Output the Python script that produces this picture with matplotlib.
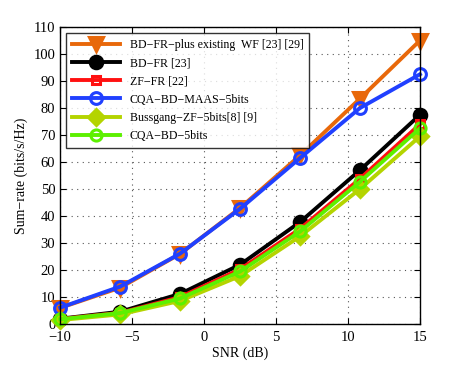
import numpy as np
import matplotlib.pyplot as plt

snr = [-10, -5.83, -1.67, 2.5, 6.67, 10.83, 15]

labels = ['BD\u2212FR\u2212plus existing  WF [23] [29]',
          'BD\u2212FR [23]',
          'ZF\u2212FR [22]',
          'CQA\u2212BD\u2212MAAS\u22125bits',
          'Bussgang\u2212ZF\u22125bits[8] [9]',
          'CQA\u2212BD\u22125bits']

bd_fr_wf = [6.0, 13.5, 26.0, 43.0, 62.5, 83.5, 105.0]
bd_fr = [2.0, 4.6, 11.2, 22.0, 37.8, 57.0, 77.5]
zf_fr = [1.9, 4.2, 10.0, 20.3, 35.3, 53.8, 74.0]
cqa_maas = [6.1, 13.9, 26.1, 42.7, 61.5, 80.0, 92.5]
bussgang = [1.5, 3.6, 8.6, 17.8, 32.5, 50.0, 69.5]
cqa_bd = [1.8, 4.1, 9.5, 19.5, 34.3, 52.7, 72.5]

series = [bd_fr_wf, bd_fr, zf_fr, cqa_maas, bussgang, cqa_bd]
colors = ['#e8680a', 'black', '#ff1010', '#2040ff', '#b4d400', '#5cf000']
markers = ['v', 'o', 's', 'o', 'D', 'o']
fills = ['full', 'full', 'none', 'none', 'full', 'none']
msizes = [10, 9, 6, 8.5, 8, 8]

plt.rcParams['font.family'] = ['Liberation Serif']

fig = plt.figure(figsize=(4.63, 3.65), dpi=100)
ax = fig.add_axes([0.13, 0.112, 0.777, 0.814])

for y, c, m, f, ms, lab in zip(series, colors, markers, fills, msizes, labels):
    ax.plot(snr, y, color=c, marker=m, fillstyle=f, markersize=ms,
            linewidth=2.8, markeredgewidth=2.2, label=lab, clip_on=False)

ax.set_xlim(-10, 15)
ax.set_ylim(0, 110)
ax.set_xticks([-10, -5, 0, 5, 10, 15])
ax.set_yticks(np.arange(0, 111, 10))
ax.grid(True, linestyle=(0, (1, 4)), color='#555555', linewidth=0.8)
ax.tick_params(direction='in', top=True, right=True, labelsize=10.5, length=4)
ax.tick_params(axis='x', pad=5)
for s in ax.spines.values():
    s.set_linewidth(1.0)

ax.set_xlabel('SNR (dB)', fontsize=10, labelpad=2)
ax.set_ylabel('Sum\u2212rate (bits/s/Hz)', fontsize=10)

leg = ax.legend(loc='upper left', fontsize=8.6, frameon=True, fancybox=False,
                edgecolor='black', handlelength=4.0, borderpad=0.5,
                labelspacing=0.52, borderaxespad=0,
                bbox_to_anchor=(0.017, 0.98))
leg.get_frame().set_linewidth(1.0)

fig.savefig('out.png', dpi=100)
